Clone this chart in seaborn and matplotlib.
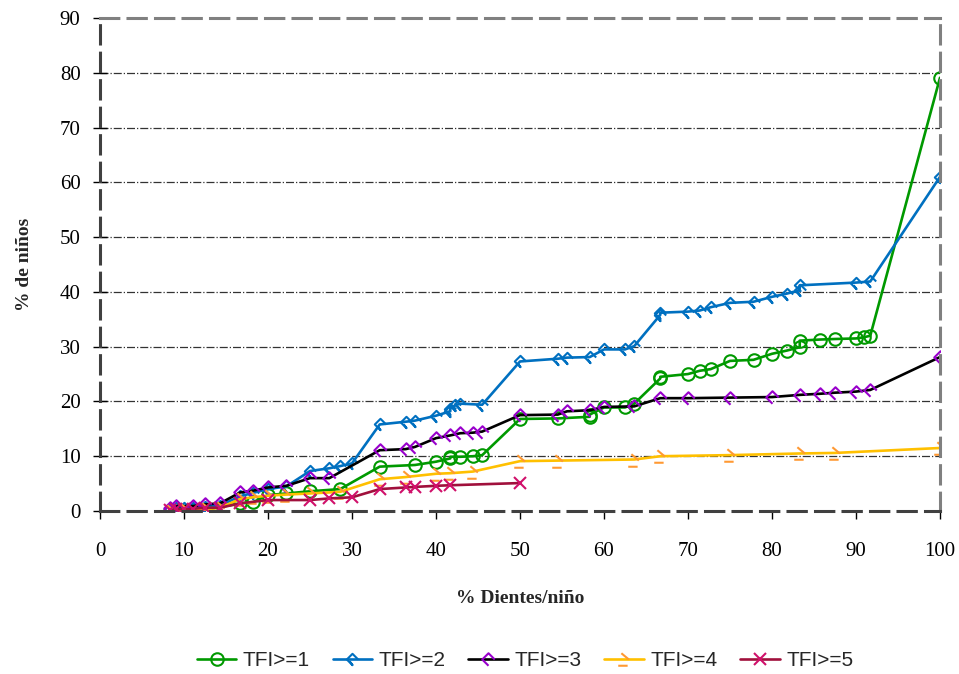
import pandas as pd
import seaborn as sns
import matplotlib.pyplot as plt
from matplotlib.path import Path

# data
x_tfi1 = [8.3, 11.1, 12.5, 16.7, 18.2, 20, 22.2, 25, 28.6, 33.3, 37.5, 40, 41.7, 41.7, 42.9, 44.4,
          45.5, 50, 54.5, 58.3, 58.3, 60, 62.5, 63.6, 66.7, 66.7, 70, 71.4, 72.7, 75, 77.8, 80,
          81.8, 83.3, 83.3, 85.7, 87.5, 90, 90.9, 91.7, 100]
y_tfi1 = [0, 0, 0.2, 1.4, 1.6, 2.9, 3.2, 3.6, 4.0, 8.1, 8.4, 9.0, 9.6, 9.9, 9.9, 10.0,
          10.2, 16.8, 16.9, 17.2, 17.6, 18.9, 18.9, 19.6, 24.2, 24.5, 25.0, 25.6, 25.9, 27.4, 27.6, 28.7,
          29.3, 29.9, 31.1, 31.3, 31.4, 31.5, 31.7, 32.0, 79.1]

x_tfi2 = [8.3, 9.1, 10, 11.1, 12.5, 14.3, 16.7, 18.2, 20, 22.2, 25, 27.3, 28.6, 30, 33.3, 36.4,
          37.5, 40, 41.7, 41.7, 42.3, 42.9, 45.5, 50, 54.5, 55.6, 58.3, 60, 62.5, 63.6, 66.7, 66.7,
          70, 71.4, 72.7, 75, 77.8, 80, 81.8, 83.3, 83.3, 90, 91.7, 100]
y_tfi2 = [0.3, 0.5, 0.5, 0.6, 0.8, 1.0, 2.7, 3.3, 4.0, 4.5, 7.3, 7.8, 8.2, 8.7, 15.8, 16.3,
          16.5, 17.4, 18.2, 18.7, 19.3, 19.6, 19.4, 27.3, 27.8, 28.0, 28.1, 29.5, 29.5, 30.1, 35.8, 36.2,
          36.4, 36.6, 37.2, 38.0, 38.2, 39.1, 39.7, 40.3, 41.2, 41.7, 41.9, 61.0]

x_tfi3 = [8.3, 9.1, 11.1, 12.5, 14.3, 16.7, 18.2, 20, 22.2, 25, 27.3, 33.3, 36.4, 37.5, 40, 41.7,
          42.9, 44.4, 45.5, 50, 54.5, 55.6, 58.3, 60, 63.6, 66.7, 70, 75, 80, 83.3, 85.7, 87.5,
          90, 91.7, 100]
y_tfi3 = [0.6, 0.9, 0.9, 1.2, 1.4, 3.4, 3.7, 4.3, 4.6, 6.0, 6.0, 11.1, 11.3, 11.7, 13.3, 13.8,
          14.2, 14.3, 14.5, 17.5, 17.6, 18.2, 18.4, 19.0, 19.1, 20.6, 20.6, 20.7, 20.8, 21.2, 21.4, 21.6,
          21.8, 22.1, 28.1]

x_tfi4 = [8.3, 10, 12.5, 14.3, 16.7, 18.2, 20, 22.2, 25, 28.6, 33.3, 36.4, 40, 41.7, 44.4, 50,
          54.5, 63.6, 66.7, 75, 83.3, 87.5, 100]
y_tfi4 = [0, 0.2, 0.3, 0.6, 2.2, 2.5, 2.8, 3.0, 3.2, 3.5, 5.8, 6.2, 6.8, 6.9, 7.2, 9.1,
          9.2, 9.4, 10.0, 10.2, 10.5, 10.6, 11.5]

x_tfi5 = [8.3, 9.1, 10, 11.1, 12.5, 14.3, 16.7, 20, 25, 27.3, 30, 33.3, 36.4, 37.5, 40, 41.7, 50]
y_tfi5 = [0.1, 0.3, 0.3, 0.4, 0.6, 0.6, 1.4, 2.0, 2.0, 2.3, 2.5, 4.0, 4.3, 4.4, 4.6, 4.7, 5.1]

labels = ['TFI>=1', 'TFI>=2', 'TFI>=3', 'TFI>=4', 'TFI>=5']

# odd open marker shapes like the ones excel draws
M, L = Path.MOVETO, Path.LINETO
open_diamond = Path([(1, 0), (0, 1), (-1, 0), (0, -1)], [M, L, L, L])
tail_diamond = Path([(1, 0), (0, 1), (-1, 0), (0, -1), (-0.5, -0.3), (0.1, -1.1)], [M, L, L, L, M, L])
hook = Path([(-0.5, 1), (0.7, 0), (-1, -1), (0.5, -1)], [M, L, M, L])

sns.set_theme(style="white")
plt.rcParams['font.family'] = ['Liberation Serif', 'DejaVu Serif']

fig, ax = plt.subplots(figsize=(9.59, 6.74), dpi=100)
fig.subplots_adjust(left=100 / 959, right=940 / 959, top=1 - 18 / 674, bottom=1 - 511 / 674)

styles = [
    (x_tfi1, y_tfi1, '#009900', '#009900', 'o', 9),
    (x_tfi2, y_tfi2, '#0070C0', '#0070C0', tail_diamond, 9),
    (x_tfi3, y_tfi3, 'black', '#9900CC', open_diamond, 9),
    (x_tfi4, y_tfi4, '#FFC000', '#FF9933', hook, 9),
    (x_tfi5, y_tfi5, '#A0103C', '#D0106A', 'x', 8),
]

for (xs, ys, lc, mc, mk, ms), lab in zip(styles, labels):
    df = pd.DataFrame({'x': xs, 'y': ys})
    sns.lineplot(data=df, x='x', y='y', ax=ax, sort=False, estimator=None, color=lc,
                 linewidth=1.9, marker=mk, markersize=ms, markerfacecolor='none',
                 markeredgecolor=mc, markeredgewidth=1.5, label=lab)

ax.set_xlim(0, 100)
ax.set_ylim(0, 90)
ax.set_xticks(range(0, 101, 10))
ax.set_yticks(range(0, 91, 10))
ax.tick_params(axis='both', labelsize=15, width=1, colors='black', bottom=True, left=True)
ax.tick_params(axis='x', direction='out', length=6, pad=16)
ax.tick_params(axis='y', direction='inout', length=10, pad=9)

for y in range(10, 90, 10):
    ax.axhline(y, color='#333333', linestyle='-.', linewidth=0.9, zorder=0)

for side in ['top', 'right']:
    ax.spines[side].set_linestyle((0, (6, 3)))
    ax.spines[side].set_color('#808080')
    ax.spines[side].set_linewidth(2.2)
for side in ['left', 'bottom']:
    ax.spines[side].set_linestyle((0, (6, 3)))
    ax.spines[side].set_color('#404040')
    ax.spines[side].set_linewidth(2.2)

ax.set_xlabel('% Dientes/niño', fontsize=14, fontweight='bold')
ax.set_ylabel('% de niños', fontsize=14, fontweight='bold')
ax.xaxis.set_label_coords(0.5, -0.160)
ax.yaxis.set_label_coords(-0.080, 0.5)

ax.legend(loc='center', bbox_to_anchor=(525 / 959, 13 / 674), bbox_transform=fig.transFigure,
          ncol=5, frameon=False, prop={'family': 'Liberation Sans', 'size': 15},
          handlelength=1.9, columnspacing=1.1, handletextpad=0.3)

plt.savefig('out.png', dpi=100)
